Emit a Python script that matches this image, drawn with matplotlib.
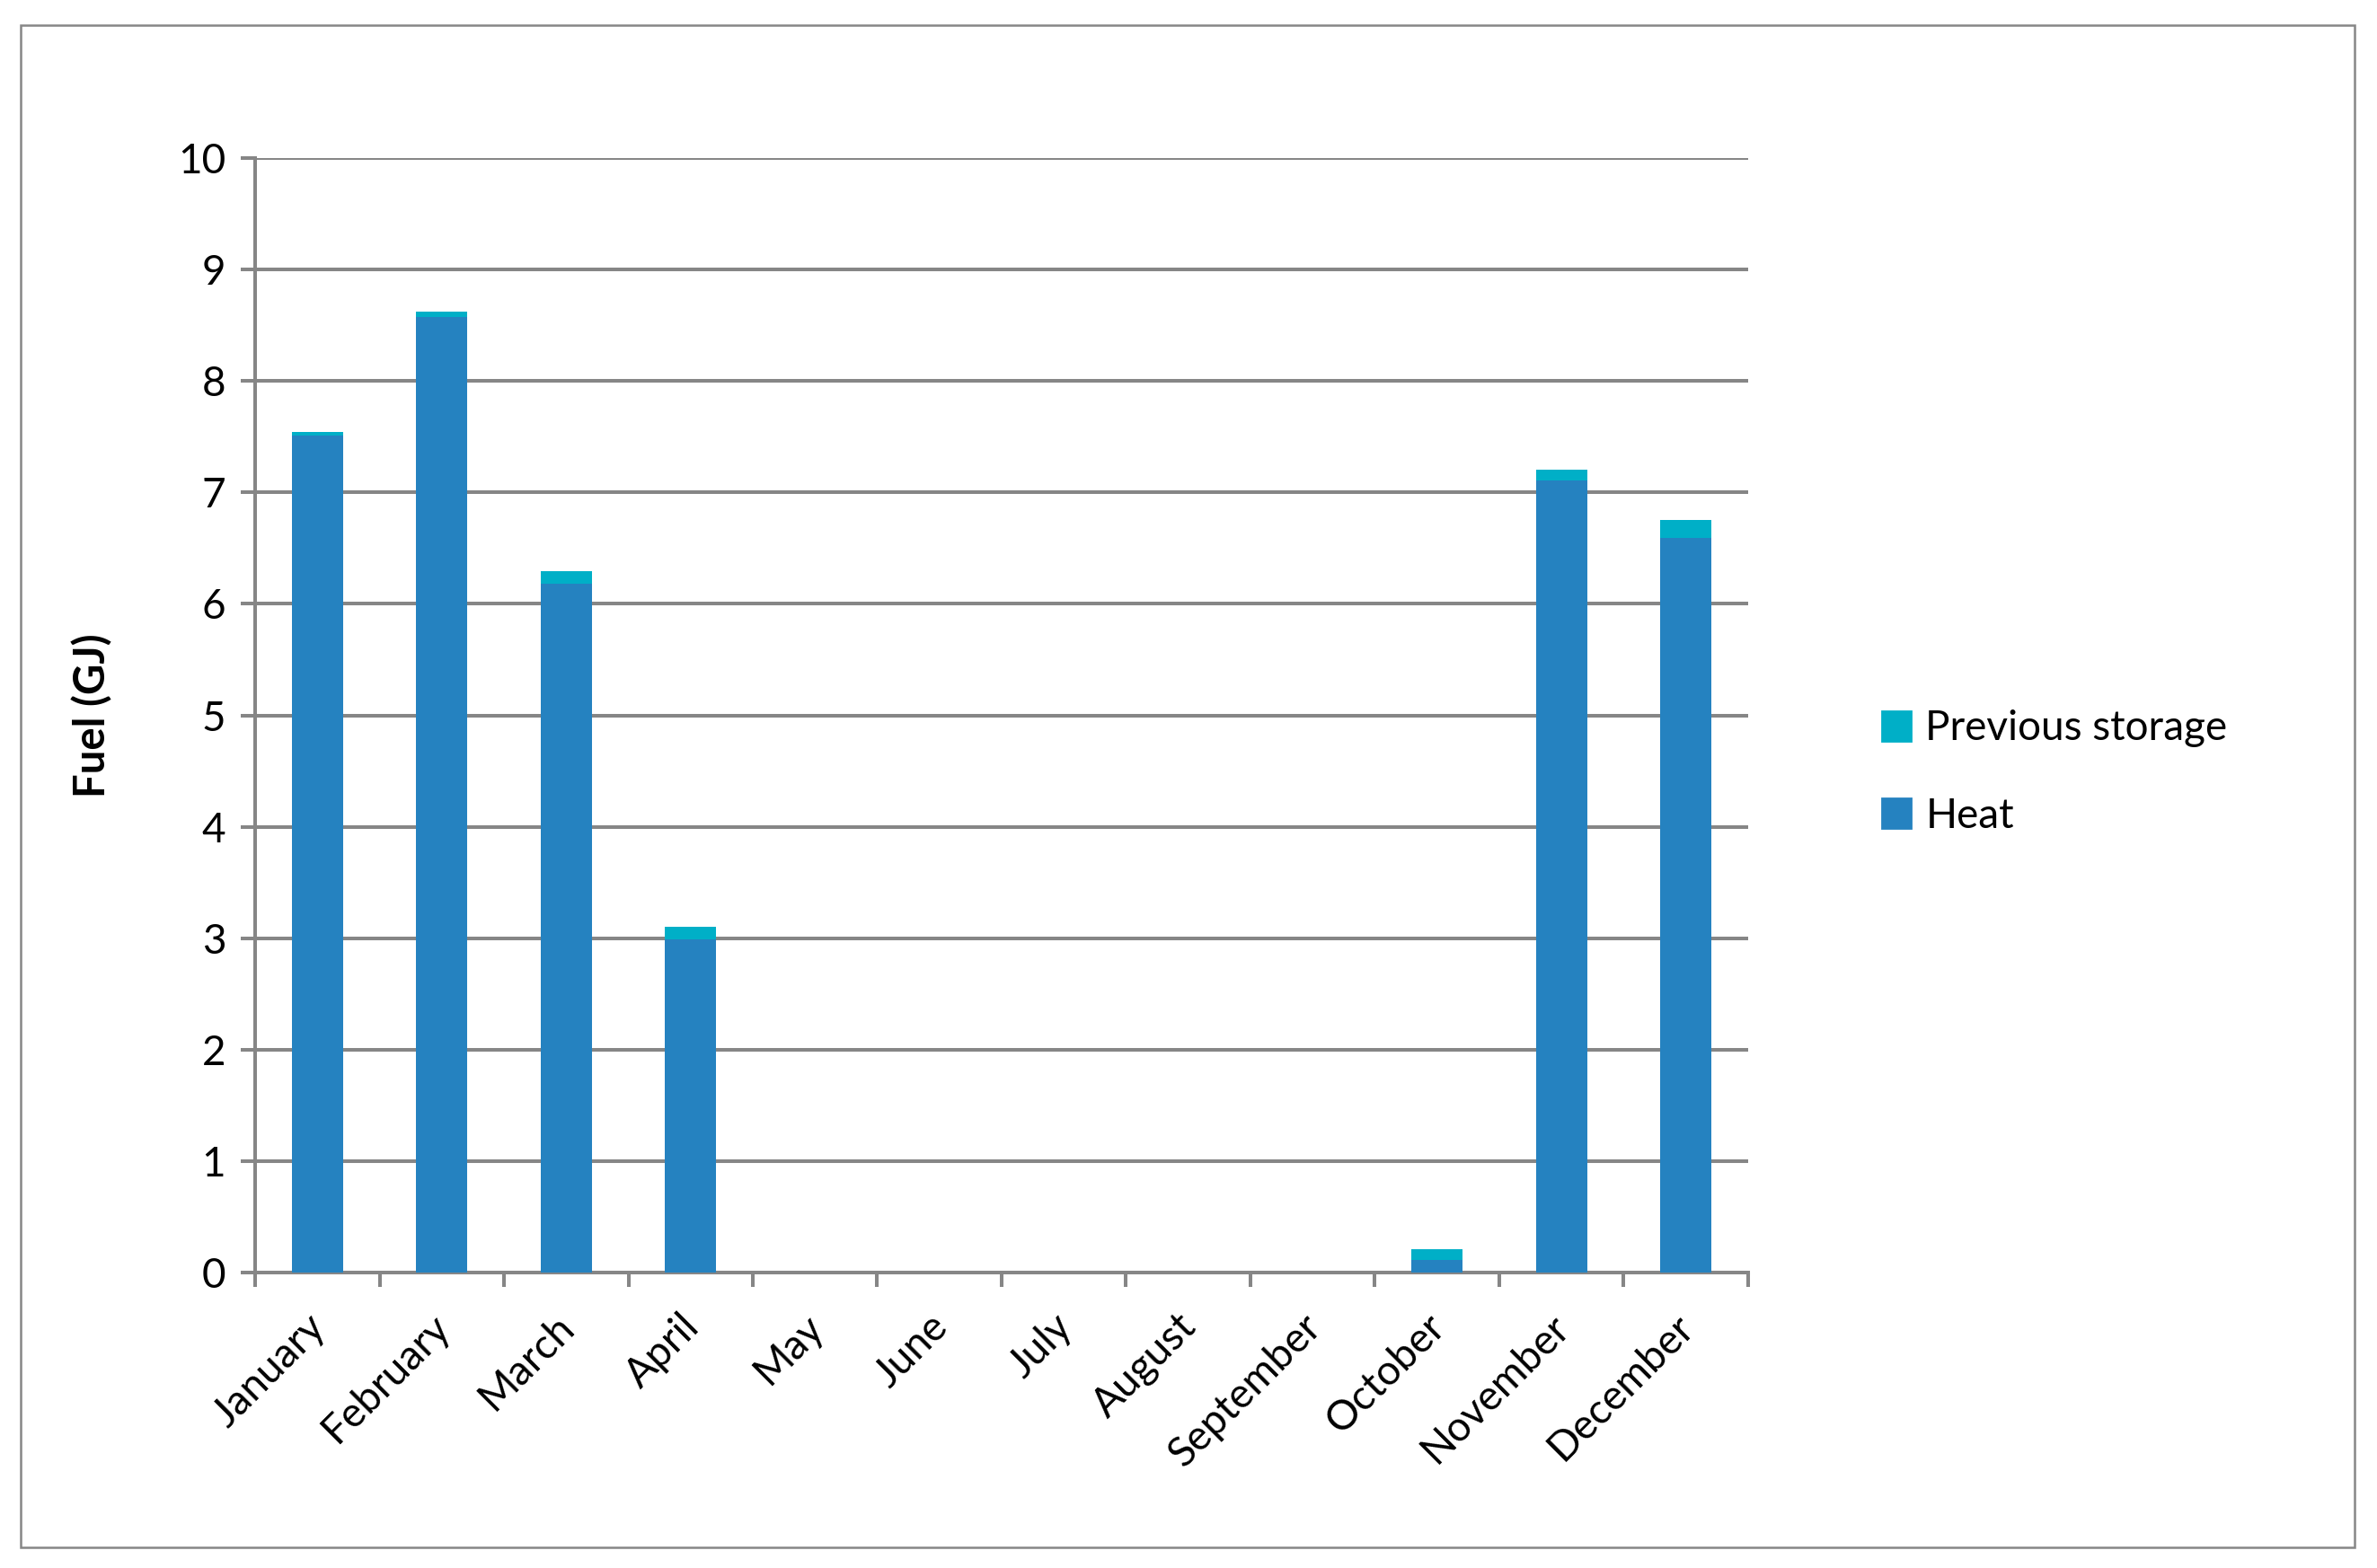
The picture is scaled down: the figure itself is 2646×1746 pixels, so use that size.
import matplotlib
matplotlib.use("Agg")
import matplotlib.pyplot as plt
from matplotlib.patches import Rectangle, Patch

months = ["January", "February", "March", "April", "May", "June", "July",
          "August", "September", "October", "November", "December"]
heat = [7.51, 8.57, 6.18, 2.99, 0, 0, 0, 0, 0, 0.11, 7.11, 6.59]
previous_storage = [0.03, 0.05, 0.11, 0.11, 0, 0, 0, 0, 0, 0.10, 0.09, 0.16]
yticks = list(range(0, 11))

heat_color = "#2582C0"
storage_color = "#00AFC7"
grid_color = "#868686"

plt.rcParams['font.family'] = ['Lato', 'DejaVu Sans']

W, H, DPI = 2646, 1746, 200
fig = plt.figure(figsize=(W / DPI, H / DPI), dpi=DPI)
ax = fig.add_axes([284 / W, 1 - 1417 / H, (1946 - 284) / W, (1417 - 176) / H])

x = list(range(len(months)))
ax.bar(x, heat, width=0.41, color=heat_color, zorder=3, label="Heat")
ax.bar(x, previous_storage, width=0.41, bottom=heat, color=storage_color,
       zorder=3, label="Previous storage")

ax.set_xlim(-0.5, 11.5)
ax.set_ylim(0, 10)
ax.set_yticks(yticks)
ax.set_yticklabels([str(v) for v in yticks], fontsize=16.5)
ax.yaxis.grid(True, color=grid_color, linewidth=1.45, zorder=0)
ax.set_axisbelow(True)

# label anchors sit slightly left of the category centre (as in the original)
ax.set_xticks([i - 0.09 for i in x])
ax.set_xticklabels(months, rotation=45, ha="right", rotation_mode="anchor",
                   fontsize=16.5)
ax.set_xticks([i - 0.5 for i in range(13)], minor=True)
ax.tick_params(axis="x", which="major", length=0, pad=14)
ax.tick_params(axis="x", which="minor", length=5.8, width=1.45, color=grid_color)
ax.tick_params(axis="y", length=5.8, width=1.45, color=grid_color, pad=6)

for s in ["top", "right"]:
    ax.spines[s].set_visible(False)
for s in ["left", "bottom"]:
    ax.spines[s].set_color(grid_color)
    ax.spines[s].set_linewidth(1.45)

ax.set_ylabel("Fuel (GJ)", fontsize=17, fontweight="bold", labelpad=26)

handles = [Patch(color=storage_color, label="Previous storage"),
           Patch(color=heat_color, label="Heat")]
fig.legend(handles=handles, loc="center left",
           bbox_to_anchor=(2054 / W, 1 - 860 / H), frameon=False,
           fontsize=16.5, handlelength=0.7, handleheight=0.7,
           handletextpad=0.35, labelspacing=1.2)

fig.patches.append(Rectangle((23 / W, 1 - 1723 / H), (2621 - 23) / W,
                             (1723 - 28) / H, transform=fig.transFigure,
                             fill=False, edgecolor=grid_color, linewidth=0.9))

fig.savefig("out.png", dpi=DPI)
